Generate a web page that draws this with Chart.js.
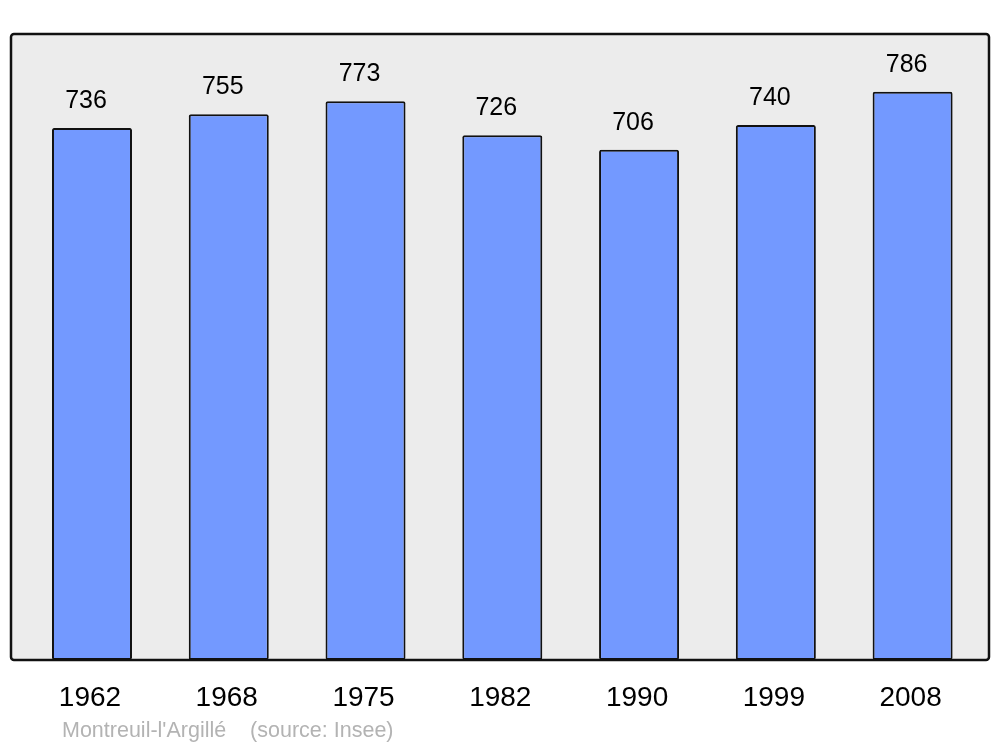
<!DOCTYPE html>
<html>
<head>
<meta charset="utf-8">
<script src="https://cdn.jsdelivr.net/npm/chart.js@4.4.1/dist/chart.umd.min.js"></script>
<style>
  html, body { margin: 0; padding: 0; background: #ffffff; }
  #wrap { width: 1000px; height: 747px; position: relative; }
</style>
</head>
<body>
<div id="wrap"><canvas id="graficoPop"></canvas></div>
<script>
// données population
const annees = ['1962', '1968', '1975', '1982', '1990', '1999', '2008'];
const population = [736, 755, 773, 726, 706, 740, 786];
const commune = "Montreuil-l'Argillé";
const source = '(source: Insee)';

// fond gris + cadre, valeurs au-dessus des barres, pied de page
const decorPlugin = {
  id: 'decor',
  beforeDraw(chart) {
    const ctx = chart.ctx;
    ctx.save();
    ctx.beginPath();
    ctx.roundRect(11, 34, 978, 626, 3);
    ctx.fillStyle = '#ececec';
    ctx.fill();
    ctx.restore();
  },
  afterDatasetsDraw(chart) {
    const ctx = chart.ctx;
    const meta = chart.getDatasetMeta(0);
    ctx.save();
    ctx.font = '25px "Liberation Sans", Arial, sans-serif';
    ctx.fillStyle = '#000000';
    ctx.textAlign = 'center';
    ctx.textBaseline = 'middle';
    meta.data.forEach((bar, i) => {
      ctx.fillText(String(population[i]), bar.x - 6, bar.y - 27);
    });
    ctx.beginPath();
    ctx.roundRect(11, 34, 978, 626, 3);
    ctx.lineWidth = 2.5;
    ctx.strokeStyle = '#111111';
    ctx.stroke();
    ctx.font = '21.5px "Liberation Sans", Arial, sans-serif';
    ctx.fillStyle = '#b3b3b3';
    ctx.textAlign = 'left';
    ctx.textBaseline = 'alphabetic';
    ctx.fillText(commune + '    ' + source, 62, 737);
    ctx.restore();
  },
};

const ctx = document.getElementById('graficoPop').getContext('2d');
new Chart(ctx, {
  type: 'bar',
  data: {
    labels: annees,
    datasets: [
      {
        label: 'Population',
        data: population,
        backgroundColor: '#7399ff',
        borderColor: '#111111',
        borderWidth: 2,
        borderRadius: 2,
        borderSkipped: false,
        barPercentage: 0.585,
        categoryPercentage: 1,
      },
    ],
  },
  options: {
    responsive: true,
    maintainAspectRatio: false,
    animation: false,
    layout: { padding: { left: 23.6, right: 19, top: 34, bottom: 0 } },
    plugins: {
      legend: { display: false },
      tooltip: { enabled: false },
    },
    scales: {
      x: {
        grid: { display: false, drawTicks: false },
        border: { display: false },
        ticks: {
          color: '#000000',
          padding: 21,
          labelOffset: -2,
          font: { family: '"Liberation Sans", Arial, sans-serif', size: 28 },
        },
        afterFit: (scale) => { scale.height = 87; },
      },
      y: {
        display: false,
        min: 0,
        max: 866,
      },
    },
  },
  plugins: [decorPlugin],
});
</script>
</body>
</html>
